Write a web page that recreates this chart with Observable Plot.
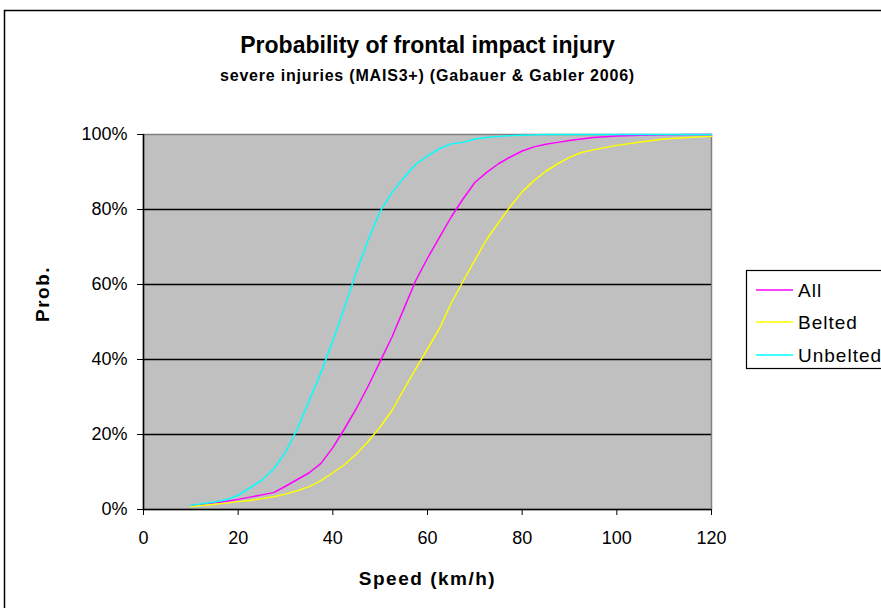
<!DOCTYPE html>
<html>
<head>
<meta charset="utf-8">
<script src="https://cdn.jsdelivr.net/npm/d3@7"></script>
<script src="https://cdn.jsdelivr.net/npm/@observablehq/plot@0.6"></script>
<style>
  html, body { margin: 0; padding: 0; background: #fff; }
  #chart svg { display: block; font-family: "Liberation Sans", Arial, sans-serif; color: #000; }
</style>
</head>
<body>
<div id="chart"></div>
<script>
const title = "Probability of frontal impact injury";
const subtitle = "severe injuries (MAIS3+) (Gabauer & Gabler 2006)";
const xLabel = "Speed (km/h)";
const yLabel = "Prob.";
const seriesNames = ["All", "Belted", "Unbelted"];
const seriesColors = ["#FF00FF", "#FFFF00", "#00FFFF"];
const xTicks = [0, 20, 40, 60, 80, 100, 120];
const yTicks = [0, 0.2, 0.4, 0.6, 0.8, 1.0];
const gridValues = [0.2, 0.4, 0.6, 0.8];

const speeds = [10, 15, 17.5, 20, 22.5, 25, 27.5, 30, 32.5, 35, 37.5, 40, 42.5, 45, 47.5, 50,
  52.5, 55, 57.5, 60, 62.5, 65, 67.5, 70, 72.5, 75, 77.5, 80, 82.5, 85, 87.5, 90, 92.5, 95,
  100, 105, 110, 115, 120];

// probabilities in %
const allValues = [1.0, 1.7, 2.2, 2.7, 3.3, 3.9, 4.5, 6.2, 8.0, 9.8, 12.3, 16.5, 21.6, 27, 33, 39.5,
  46, 53.5, 61, 67, 72.5, 78, 82.8, 87.2, 89.9, 92.2, 94.0, 95.6, 96.7, 97.4, 97.9, 98.4, 98.8, 99.2,
  99.6, 99.8, 99.9, 100, 100];
const beltedValues = [0.8, 1.4, 1.7, 2.1, 2.4, 2.9, 3.4, 4.1, 5.0, 6.1, 7.7, 9.8, 12.0, 14.8, 18.2, 22,
  26.4, 32, 37.5, 42.8, 48.2, 55, 60.8, 66.5, 72, 76.5, 80.8, 84.7, 87.7, 90.2, 92.2, 93.9, 95.2, 95.9,
  97.1, 98.0, 98.8, 99.2, 99.5];
const unbeltedValues = [1.1, 2.0, 2.6, 3.8, 5.8, 7.8, 10.8, 15.3, 21.5, 29, 36.5, 45, 54, 63.5, 72, 79.5,
  84.5, 88.5, 92, 94.3, 96.2, 97.5, 97.9, 98.8, 99.2, 99.5, 99.7, 99.8, 99.9, 100, 100, 100, 100, 100,
  100, 100, 100, 100, 100];

const seriesValues = [allValues, beltedValues, unbeltedValues];
const data = [];
seriesNames.forEach((name, i) => {
  speeds.forEach((s, j) => data.push({series: name, speed: s, p: seriesValues[i][j] / 100}));
});

const plot = Plot.plot({
  width: 881,
  height: 608,
  marginLeft: 143,
  marginRight: 170,
  marginTop: 134,
  marginBottom: 99,
  style: {fontFamily: "'Liberation Sans', Arial, sans-serif", fontSize: "17px", color: "#000", background: "#fff"},
  x: {domain: [0, 120]},
  y: {domain: [0, 1]},
  color: {domain: seriesNames, range: seriesColors},
  marks: [
    Plot.frame({fill: "#C0C0C0", stroke: "#808080", strokeWidth: 1.5}),
    Plot.ruleY(gridValues, {stroke: "#000", strokeWidth: 1.5}),
    Plot.ruleX([0], {stroke: "#000", strokeWidth: 1.5}),
    Plot.ruleY([0], {stroke: "#000", strokeWidth: 1.5}),
    Plot.line(data, {x: "speed", y: "p", z: "series", stroke: "series", strokeWidth: 1.5, curve: "linear"}),
    Plot.axisY({ticks: yTicks, tickFormat: d3.format(".0%"), tickSize: 6, tickPadding: 10, fontSize: 18, label: null}),
    Plot.axisX({ticks: xTicks, tickSize: 6, tickPadding: 16, fontSize: 18, label: null}),
    Plot.text([title], {frameAnchor: "top", lineAnchor: "middle", dy: -89, fontSize: 23, fontWeight: "bold"}),
    Plot.text([subtitle], {frameAnchor: "top", lineAnchor: "middle", dy: -59, fontSize: 16, fontWeight: "bold"}),
    Plot.text([xLabel], {frameAnchor: "bottom", lineAnchor: "middle", dy: 69, fontSize: 19, fontWeight: "bold"}),
    Plot.text([yLabel], {frameAnchor: "left", lineAnchor: "middle", dx: -101, rotate: -90, fontSize: 19, fontWeight: "bold"})
  ]
});

const svg = d3.select(plot);
svg.selectAll("text").filter(function() { return d3.select(this).text() === subtitle; })
  .attr("letter-spacing", 0.8);
svg.selectAll("text").filter(function() { const t = d3.select(this).text(); return t === xLabel || t === yLabel; })
  .attr("letter-spacing", 1.5);

// outer chart border
svg.append("rect")
  .attr("x", 4.5).attr("y", 10.5).attr("width", 1000).attr("height", 1000)
  .attr("fill", "none").attr("stroke", "#000").attr("stroke-width", 1.5);

// legend
const lg = svg.append("g").attr("text-anchor", "start");
lg.append("rect")
  .attr("x", 746.5).attr("y", 270.5).attr("width", 200).attr("height", 98)
  .attr("fill", "#fff").attr("stroke", "#000").attr("stroke-width", 1.2);
const legendY = [290, 322, 355];
seriesNames.forEach((name, i) => {
  lg.append("line").attr("x1", 756).attr("x2", 793).attr("y1", legendY[i]).attr("y2", legendY[i])
    .attr("stroke", seriesColors[i]).attr("stroke-width", 1.5);
  lg.append("text").attr("x", 798).attr("y", legendY[i]).attr("dy", "0.35em")
    .attr("font-size", 19).attr("letter-spacing", 1).attr("fill", "#000").text(name);
});

document.getElementById("chart").appendChild(plot);
</script>
</body>
</html>
